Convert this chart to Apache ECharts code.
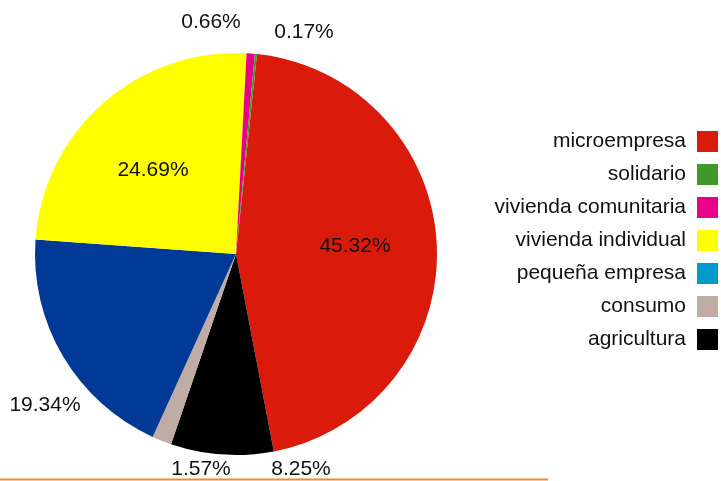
<!DOCTYPE html>
<html>
<head>
<meta charset="utf-8">
<script src="https://cdn.jsdelivr.net/npm/echarts@6/dist/echarts.min.js"></script>
<style>
  html, body { margin: 0; padding: 0; background: #fff; }
  #chart { width: 721px; height: 481px; }
</style>
</head>
<body>
<div id="chart"></div>
<script>
// categories in the order the slices run clockwise
const names = ['microempresa', 'agricultura', 'consumo', 'pequeña empresa', 'vivienda individual', 'vivienda comunitaria', 'solidario']
const values = [45.32, 8.25, 1.57, 19.34, 24.69, 0.66, 0.17]
// legend order as shown on the right
const legendOrder = ['microempresa', 'solidario', 'vivienda comunitaria', 'vivienda individual', 'pequeña empresa', 'consumo', 'agricultura']

// colours
const sliceColors = {
  'microempresa': '#da1b0c',
  'agricultura': '#000000',
  'consumo': '#bfaca5',
  'pequeña empresa': '#003a96',
  'vivienda individual': '#ffff00',
  'vivienda comunitaria': '#e6008a',
  'solidario': '#3f9a2a'
}
// the legend key of pequeña empresa is lighter than its slice
const legendColors = { 'pequeña empresa': '#0099cc' }

// label centres (same order as names)
const labelPos = [[355, 246], [301, 469], [201, 469], [45, 405], [153, 170], [211, 22], [304, 32]]

const font = 'Liberation Sans, Arial, sans-serif'

const chart = echarts.init(document.getElementById('chart'))

const option = {
  animation: false,
  legend: {
    data: legendOrder.map(n => ({
      name: n,
      itemStyle: { color: legendColors[n] || sliceColors[n] }
    })),
    orient: 'vertical',
    align: 'right',
    right: 3,
    top: 131,
    padding: 0,
    itemWidth: 21,
    itemHeight: 21,
    itemGap: 12,
    icon: 'rect',
    selectedMode: false,
    textStyle: { fontFamily: font, fontSize: 21, color: '#111', padding: [0, 6, 0, 0] }
  },
  graphic: [{
    type: 'line',
    shape: { x1: 0, y1: 479.5, x2: 548, y2: 479.5 },
    style: { stroke: '#f5882a', lineWidth: 2 }
  }],
  series: [{
    type: 'pie',
    center: [236, 254],
    radius: 201,
    startAngle: 84,
    clockwise: true,
    silent: true,
    emphasis: { disabled: true },
    itemStyle: { borderWidth: 0 },
    label: {
      show: true,
      position: 'outside',
      overflow: 'none',
      formatter: p => values[p.dataIndex].toFixed(2) + '%',
      fontFamily: font,
      fontSize: 21,
      color: '#111'
    },
    labelLine: { show: false },
    labelLayout: p => ({
      x: labelPos[p.dataIndex][0],
      y: labelPos[p.dataIndex][1],
      align: 'center',
      verticalAlign: 'middle',
      hideOverlap: false
    }),
    data: names.map((n, i) => ({
      name: n,
      value: values[i],
      itemStyle: { color: sliceColors[n] }
    }))
  }]
}

chart.setOption(option)
</script>
</body>
</html>
